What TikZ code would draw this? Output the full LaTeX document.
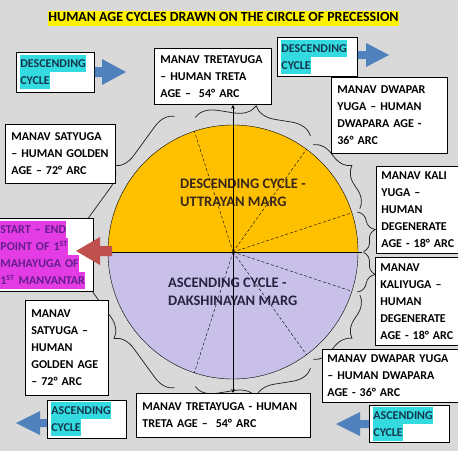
\documentclass[tikz,border=0pt]{standalone}
\usepackage{fontspec}
\setmainfont{Carlito}
\usetikzlibrary{decorations.pathreplacing,arrows.meta,calc}
\definecolor{bg}{RGB}{217,217,217}
\definecolor{gold}{RGB}{255,192,0}
\definecolor{lav}{RGB}{200,192,232}
\definecolor{hlcyan}{RGB}{51,218,224}
\definecolor{hlmag}{RGB}{228,60,228}
\definecolor{hlyel}{RGB}{255,242,0}
\definecolor{blueA}{RGB}{79,129,189}
\definecolor{redA}{RGB}{192,80,77}
\definecolor{cyantext}{RGB}{20,55,75}
\definecolor{purptext}{RGB}{100,30,140}
\definecolor{uptext}{RGB}{55,40,25}
\definecolor{lowtext}{RGB}{40,35,65}
\newcommand\hlline[2]{{\setlength{\fboxsep}{0pt}\colorbox{#1}{\rule[-4.5pt]{0pt}{17pt}#2}}}
\tikzset{
  lbl/.style={draw=black, line width=0.8pt, fill=white, anchor=north west, align=left,
    inner xsep=6pt, inner ysep=0pt, font=\fontsize{12}{17}\selectfont\bfseries},
  hlbox/.style={lbl, inner xsep=4pt},
  centertxt/.style={anchor=north west, align=left, inner sep=0pt,
    font=\fontsize{14.5}{18}\selectfont\bfseries},
  brc/.style={decorate, decoration={brace, amplitude=#1}, line width=0.75pt, draw=black!85},
  rad/.style={densely dashed, line width=0.4pt},
  blockB/.style={fill=blueA, draw=none},
  blockR/.style={fill=redA, draw=none},
}
\newcommand\arcbrace[5]{%
  \pgfmathsetmacro\mm{(#2+#3)/2}%
  \pgfmathsetmacro\hh{(#2-#3)/2}%
  \pgfmathsetmacro\LL{1.02*126*sin(\hh)}%
  \coordinate (#1a) at ($(O)+(-\mm:#4)+(-\mm+90:\LL)$);%
  \coordinate (#1b) at ($(O)+(-\mm:#4)+(-\mm-90:\LL)$);%
  \draw[brc=#5] (#1b) -- (#1a);%
}
\begin{document}
\begin{tikzpicture}[x=1pt,y=-1pt]
\useasboundingbox (0,0) rectangle (458,451);
\fill[bg] (0,0) rectangle (458,451);
\coordinate (O) at (233,252);

% title
\node[font=\fontsize{13.9}{16}\selectfont\bfseries, inner sep=0pt] (title) at (223.5,18)
  {{\setlength{\fboxsep}{0.5pt}\colorbox{hlyel}{\rule[-3.5pt]{0pt}{14pt}HUMAN AGE CYCLES DRAWN ON THE CIRCLE OF PRECESSION}}};

% circle halves
\fill[gold] (O) ++(-125,0) arc[start angle=180, end angle=360, x radius=125, y radius=127] -- cycle;
\fill[lav] (O) ++(-125,0) arc[start angle=180, end angle=0, x radius=125, y radius=127] -- cycle;
\draw[line width=0.4pt] (O) ellipse[x radius=125, y radius=127];
\foreach \a in {108,54,18,-18,-54,-108}
  \draw[rad] (O) -- ++({125*cos(\a)},{-127*sin(\a)});
\draw[line width=0.6pt] (108,252) -- (362,252);

% center texts
\node[centertxt, text=uptext] (upper) at (180,179) {DESCENDING CYCLE -\\UTTRAYAN MARG};
\node[centertxt, text=lowtext] (lower) at (168,278) {ASCENDING CYCLE -\\DAKSHINAYAN MARG};

% braces
\arcbrace{b1}{180}{108}{127}{20}
\arcbrace{b2}{108}{54}{127}{21}
\arcbrace{b3}{54}{18}{128}{19}
\arcbrace{b4}{18}{0}{129}{15}
\arcbrace{b5}{0}{-18}{129}{15}
\arcbrace{b6}{-18}{-54}{128}{19}
\arcbrace{b7}{-54}{-108}{127}{20}
\arcbrace{b8}{-108}{-180}{127}{20}

% label boxes
\node[lbl, minimum width=117pt, minimum height=56pt, text width=105pt] (tretaT) at (154,48)
  {MANAV TRETAYUGA\\– HUMAN TRETA\\AGE –\ \ 54° ARC};
\node[lbl, minimum width=110pt, minimum height=59pt, text width=98pt] (satyaT) at (5,124)
  {MANAV SATYUGA\\– HUMAN GOLDEN\\AGE – 72° ARC};
\node[lbl, minimum width=116pt, minimum height=76pt, text width=104pt] (dwaparT) at (331,77)
  {MANAV DWAPAR\\YUGA – HUMAN\\DWAPARA AGE -\\36° ARC};
\node[lbl, minimum width=84pt, minimum height=87pt, text width=77pt, inner xsep=5pt] (kaliT) at (376,166)
  {MANAV KALI\\YUGA –\\HUMAN\\DEGENERATE\\AGE - 18° ARC};
\node[lbl, minimum width=85pt, minimum height=88pt, text width=77pt, inner xsep=5pt] (kaliB) at (375,257)
  {MANAV\\KALIYUGA –\\HUMAN\\DEGENERATE\\AGE - 18° ARC};
\node[lbl, minimum width=136pt, minimum height=53pt, text width=126pt, inner xsep=5pt] (dwaparB) at (322,349)
  {MANAV DWAPAR YUGA\\– HUMAN DWAPARA\\AGE - 36° ARC};
\node[lbl, minimum width=174pt, minimum height=44pt, text width=162pt] (tretaB) at (136,393)
  {MANAV TRETAYUGA - HUMAN\\TRETA AGE –\ \ 54° ARC};
\node[lbl, minimum width=83pt, minimum height=95pt, text width=71pt] (satyaB) at (25,300)
  {MANAV\\SATYUGA –\\HUMAN\\GOLDEN AGE\\– 72° ARC};

% highlighted boxes
\node[hlbox, minimum width=78pt, minimum height=40pt, text width=70pt, text=cyantext] (descTL) at (16,52)
  {\hlline{hlcyan}{DESCENDING}\\\hlline{hlcyan}{CYCLE}};
\node[hlbox, minimum width=80pt, minimum height=39pt, text width=72pt, text=cyantext] (descTR) at (277,37)
  {\hlline{hlcyan}{DESCENDING}\\\hlline{hlcyan}{CYCLE}};
\node[hlbox, minimum width=80pt, minimum height=37pt, text width=72pt, text=cyantext] (ascBR) at (369,405)
  {\hlline{hlcyan}{ASCENDING}\\\hlline{hlcyan}{CYCLE}};
\node[hlbox, minimum width=79pt, minimum height=38pt, text width=71pt, text=cyantext] (ascBL) at (47,400)
  {\hlline{hlcyan}{ASCENDING}\\\hlline{hlcyan}{CYCLE}};
\node[hlbox, minimum width=95pt, minimum height=73pt, text width=91pt, inner xsep=2pt, text=purptext] (start) at (-2,218)
  {\hlline{hlmag}{START – END}\\\hlline{hlmag}{POINT OF 1\textsuperscript{ST}}\\\hlline{hlmag}{MAHAYUGA OF}\\\hlline{hlmag}{1\textsuperscript{ST} MANVANTAR}};

% vertical arrow line
\draw[line width=0.6pt, {Stealth[length=4pt,width=3.5pt]}-{Stealth[length=4pt,width=3.5pt]}]
  (O |- tretaT.south) -- (O |- tretaB.north);

% block arrows
\fill[blockB] (descTL.east |- 0,67) -- (102,67) -- (102,59) -- (126,72) -- (102,85) -- (102,77) -- (descTL.east |- 0,77) -- cycle;
\fill[blockB] (descTR.east |- 0,51) -- (366,51) -- (366,43) -- (389,55) -- (366,67) -- (366,59) -- (descTR.east |- 0,59) -- cycle;
\fill[blockB] (ascBR.west |- 0,420) -- (360,420) -- (360,412) -- (336,424) -- (360,436) -- (360,428) -- (ascBR.west |- 0,428) -- cycle;
\fill[blockB] (ascBL.west |- 0,419) -- (40,419) -- (40,411) -- (16,423) -- (40,435) -- (40,427) -- (ascBL.west |- 0,427) -- cycle;
\fill[blockR] (112,246) -- (100,246) -- (100,237) -- (76,251) -- (100,265) -- (100,256) -- (112,256) -- cycle;
\end{tikzpicture}
\end{document}
